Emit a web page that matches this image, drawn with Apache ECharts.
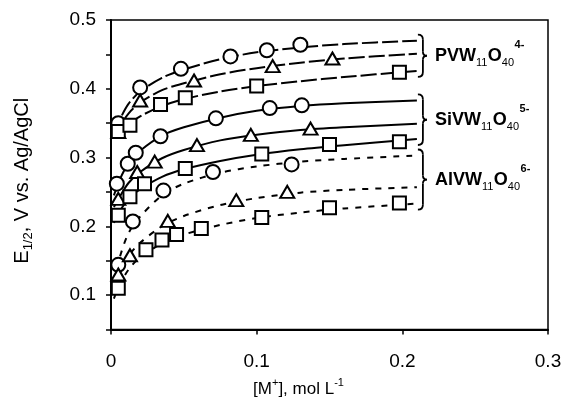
<!DOCTYPE html>
<html>
<head>
<meta charset="utf-8">
<script src="https://cdn.jsdelivr.net/npm/echarts@6/dist/echarts.min.js"></script>
<style>
  html, body { margin: 0; padding: 0; background: #fff; }
  #chart { width: 565px; height: 403px; }
</style>
</head>
<body>
<div id="chart"></div>
<script>
const FONT = 'Liberation Sans, Arial, sans-serif'

const fitX = [0.002, 0.006, 0.012, 0.02, 0.035, 0.05, 0.075, 0.1, 0.13, 0.16, 0.21]

// fitted curves
const pvwCircleFit = [0.335, 0.355, 0.378, 0.396, 0.416, 0.428, 0.443, 0.453, 0.460, 0.465, 0.470]
const pvwTriFit    = [0.328, 0.345, 0.364, 0.380, 0.398, 0.408, 0.421, 0.430, 0.438, 0.444, 0.451]
const pvwSqFit     = [0.328, 0.336, 0.348, 0.360, 0.375, 0.385, 0.396, 0.404, 0.411, 0.417, 0.426]
const siCircleFit  = [0.245, 0.268, 0.292, 0.310, 0.332, 0.344, 0.358, 0.368, 0.375, 0.379, 0.383]
const siTriFit     = [0.228, 0.243, 0.263, 0.279, 0.299, 0.311, 0.325, 0.333, 0.340, 0.344, 0.349]
const siSqFit      = [0.205, 0.222, 0.240, 0.254, 0.272, 0.283, 0.295, 0.304, 0.312, 0.318, 0.327]
const alCircleFit  = [0.120, 0.155, 0.190, 0.214, 0.245, 0.262, 0.278, 0.287, 0.294, 0.298, 0.303]
const alTriFit     = [0.110, 0.135, 0.157, 0.176, 0.200, 0.215, 0.231, 0.241, 0.249, 0.253, 0.257]
const alSqFit      = [0.095, 0.115, 0.137, 0.155, 0.175, 0.188, 0.202, 0.212, 0.220, 0.226, 0.233]

// measured points [M+], E1/2
const pvwCircle = [[0.005, 0.350], [0.020, 0.402], [0.048, 0.429], [0.082, 0.447], [0.107, 0.456], [0.130, 0.464]]
const pvwTri    = [[0.005, 0.337], [0.020, 0.383], [0.057, 0.412], [0.111, 0.433], [0.152, 0.444]]
const pvwSq     = [[0.005, 0.338], [0.013, 0.347], [0.034, 0.377], [0.051, 0.387], [0.100, 0.404], [0.198, 0.424]]
const siCircle  = [[0.004, 0.262], [0.0115, 0.291], [0.017, 0.307], [0.034, 0.331], [0.072, 0.357], [0.109, 0.372], [0.131, 0.376]]
const siTri     = [[0.005, 0.240], [0.018, 0.279], [0.030, 0.294], [0.059, 0.318], [0.096, 0.333], [0.137, 0.342]]
const siSq      = [[0.005, 0.216], [0.013, 0.243], [0.023, 0.262], [0.051, 0.284], [0.1035, 0.305], [0.150, 0.319], [0.198, 0.323]]
const alCircle  = [[0.005, 0.144], [0.015, 0.207], [0.036, 0.252], [0.070, 0.279], [0.124, 0.290]]
const alTri     = [[0.005, 0.130], [0.013, 0.158], [0.039, 0.208], [0.086, 0.238], [0.121, 0.250]]
const alSq      = [[0.005, 0.110], [0.024, 0.166], [0.035, 0.180], [0.045, 0.188], [0.062, 0.197], [0.1035, 0.213], [0.150, 0.227], [0.198, 0.234]]

// group labels: pieces of [text, kind] where kind is m (main), s (sub), p (sup)
const groupLabels = [
  [['PVW', 'm'], ['11', 's'], ['O', 'm'], ['40', 's'], ['4-', 'p']],
  [['SiVW', 'm'], ['11', 's'], ['O', 'm'], ['40', 's'], ['5-', 'p']],
  [['AlVW', 'm'], ['11', 's'], ['O', 'm'], ['40', 's'], ['6-', 'p']]
]

const chart = echarts.init(document.getElementById('chart'))

const zip = (ys) => fitX.map((x, i) => [x, ys[i]])

const curve = (ys, dash) => ({
  type: 'line',
  data: zip(ys),
  showSymbol: false,
  smooth: 0.3,
  silent: true,
  z: 2,
  lineStyle: { color: '#000', width: 2, type: dash }
})

const marks = (data, symbol, size) => ({
  type: 'scatter',
  data: data,
  symbol: symbol,
  symbolSize: size,
  z: 5,
  itemStyle: { color: '#fff', borderColor: '#000', borderWidth: 2, opacity: 1 }
})

const pvwDash = [16, 4]
const alDash = [6, 7]

const option = {
  animation: false,
  backgroundColor: '#fff',
  textStyle: { fontFamily: FONT },
  grid: {
    left: 111, right: 17, top: 20, bottom: 72,
    show: true, borderColor: '#000', borderWidth: 1.5, backgroundColor: 'transparent'
  },
  xAxis: {
    type: 'value',
    min: 0, max: 0.3, interval: 0.1,
    name: '{m|[M}{p|+}{m|], mol L}{p|-1}',
    nameLocation: 'middle',
    nameGap: 48,
    nameTextStyle: {
      color: '#000',
      padding: [0, 62, 0, 0],
      rich: {
        m: { fontSize: 17, fontFamily: FONT, color: '#000', lineHeight: 24 },
        p: { fontSize: 11, fontFamily: FONT, color: '#000', lineHeight: 12, verticalAlign: 'top' }
      }
    },
    axisLine: { lineStyle: { color: '#000', width: 2 } },
    axisTick: { length: 5, lineStyle: { color: '#000', width: 1.5 } },
    axisLabel: { color: '#000', fontSize: 19, fontFamily: FONT, margin: 23 },
    splitLine: { show: false }
  },
  yAxis: {
    type: 'value',
    min: 0.05, max: 0.5, interval: 0.05,
    name: '{m|E}{s|1/2}{m|, V vs. Ag/AgCl}',
    nameLocation: 'middle',
    nameRotate: 90,
    nameGap: 76,
    nameTextStyle: {
      color: '#000',
      padding: [0, 12, 0, 0],
      rich: {
        m: { fontSize: 20, fontFamily: FONT, color: '#000', lineHeight: 26 },
        s: { fontSize: 13, fontFamily: FONT, color: '#000', lineHeight: 18, verticalAlign: 'bottom' }
      }
    },
    axisLine: { lineStyle: { color: '#000', width: 2 } },
    axisTick: { length: 5, lineStyle: { color: '#000', width: 1.5 } },
    axisLabel: {
      color: '#000', fontSize: 19, fontFamily: FONT, margin: 15,
      formatter: (v) => {
        const r = Math.round(v * 100)
        return r % 10 === 0 ? (r / 100).toFixed(1) : ''
      }
    },
    splitLine: { show: false }
  },
  series: [
    curve(pvwCircleFit, pvwDash),
    curve(pvwTriFit, pvwDash),
    curve(pvwSqFit, pvwDash),
    curve(siCircleFit, 'solid'),
    curve(siTriFit, 'solid'),
    curve(siSqFit, 'solid'),
    curve(alCircleFit, alDash),
    curve(alTriFit, alDash),
    curve(alSqFit, alDash),
    marks(pvwCircle, 'circle', 14),
    marks(pvwTri, 'triangle', [14, 12]),
    marks(pvwSq, 'rect', 13),
    marks(siCircle, 'circle', 14),
    marks(siTri, 'triangle', [14, 12]),
    marks(siSq, 'rect', 13),
    marks(alCircle, 'circle', 14),
    marks(alTri, 'triangle', [14, 12]),
    marks(alSq, 'rect', 13)
  ]
}

chart.setOption(option)

// braces and group labels, placed from the curve ends
const lastX = fitX[fitX.length - 1]
const groups = [
  [pvwCircleFit, pvwSqFit],
  [siCircleFit, siSqFit],
  [alCircleFit, alSqFit]
]

const pieceFont = {
  m: 'bold 18px ' + FONT,
  s: '11px ' + FONT,
  p: 'bold 11px ' + FONT
}
const pieceShift = { m: 0, s: 7, p: -11 }
const ctx = document.createElement('canvas').getContext('2d')

const braceStyle = { stroke: '#000', lineWidth: 1.8, fill: null }
const graphics = []
groups.forEach((g, i) => {
  const top = chart.convertToPixel({ gridIndex: 0 }, [lastX, g[0][g[0].length - 1]])
  const bot = chart.convertToPixel({ gridIndex: 0 }, [lastX, g[1][g[1].length - 1]])
  const x0 = top[0] + 1
  const y1 = top[1] - 6
  const y2 = bot[1] + 6
  const ym = (y1 + y2) / 2
  const xb = x0 + 5
  const q = (ax, ay, cx, cy, bx, by) => ({
    type: 'bezierCurve', z: 10, silent: true,
    shape: { x1: ax, y1: ay, cpx1: cx, cpy1: cy, x2: bx, y2: by },
    style: braceStyle
  })
  const ln = (ax, ay, bx, by) => ({
    type: 'line', z: 10, silent: true,
    shape: { x1: ax, y1: ay, x2: bx, y2: by },
    style: braceStyle
  })
  graphics.push(
    q(x0, y1, xb, y1, xb, y1 + 5),
    ln(xb, y1 + 5, xb, ym - 4),
    q(xb, ym - 4, xb, ym, xb + 4, ym),
    q(xb + 4, ym, xb, ym, xb, ym + 4),
    ln(xb, ym + 4, xb, y2 - 5),
    q(xb, y2 - 5, xb, y2, x0, y2)
  )
  let tx = x0 + 17
  groupLabels[i].forEach(([t, kind]) => {
    graphics.push({
      type: 'text', z: 10, silent: true,
      x: tx,
      y: ym + pieceShift[kind],
      style: { text: t, font: pieceFont[kind], fill: '#000', verticalAlign: 'middle', align: 'left' }
    })
    ctx.font = pieceFont[kind]
    tx += ctx.measureText(t).width + (kind === 's' ? 0.5 : 0)
  })
})

chart.setOption({ graphic: graphics })
</script>
</body>
</html>
